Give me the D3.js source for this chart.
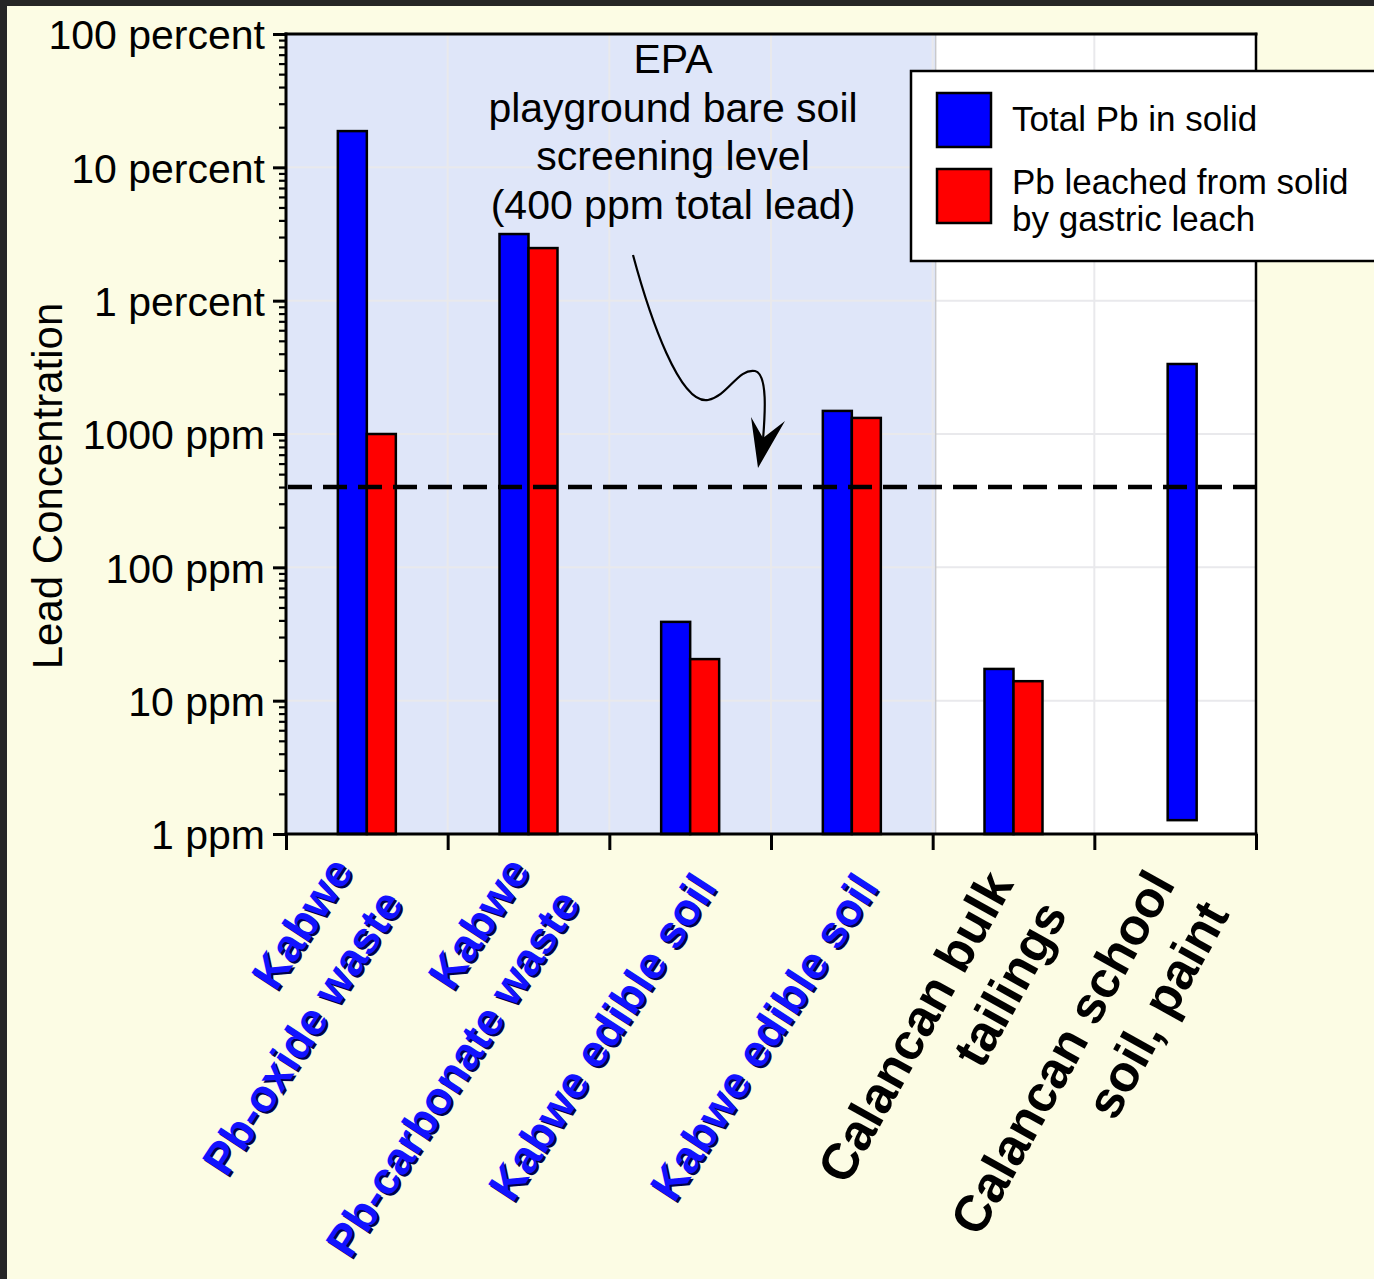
<!DOCTYPE html>
<html><head><meta charset="utf-8">
<script src="https://cdn.jsdelivr.net/npm/d3@7"></script>
<style>
html,body{margin:0;padding:0;background:#262626;}
svg{display:block;}
text{font-family:"Liberation Sans",Arial,Helvetica,sans-serif;}
</style></head><body>
<svg id="chart" width="1374" height="1279"></svg>
<script>
// ---------- data ----------
const categoryIds = ["kabwe-oxide", "kabwe-carbonate", "kabwe-soil-a", "kabwe-soil-b", "calancan-tailings", "calancan-school"];
const categoryLines = [["Kabwe", "Pb-oxide waste"], ["Kabwe", "Pb-carbonate waste"], ["Kabwe edible soil"], ["Kabwe edible soil"], ["Calancan bulk", "tailings"], ["Calancan school", "soil, paint"]];
const siteGroup = ["Kabwe", "Kabwe", "Kabwe", "Kabwe", "Calancan", "Calancan"];
const totalPb = [187000, 31600, 39, 1490, 17.3, 3350];          // ppm, bar top
const totalPbBase = [1, 1, 1, 1, 1, 1.27];                      // ppm, bar bottom
const leachedPb = [1000, 24800, 20.5, 1320, 14.0, null];        // ppm
const seriesNames = ["Total Pb in solid", ["Pb leached from solid", "by gastric leach"]];
const yTickValues = [1, 10, 100, 1000, 10000, 100000, 1000000];
const yTickLabels = ["1 ppm", "10 ppm", "100 ppm", "1000 ppm", "1 percent", "10 percent", "100 percent"];
const screeningLevel = 400;
const annotationLines = ["EPA", "playground bare soil", "screening level", "(400 ppm total lead)"];
const yTitle = "Lead Concentration";

// ---------- layout ----------
const W = 1374, H = 1279;
const plot = {left: 286, right: 1256, top: 34, bottom: 834};
const FONT = '"Liberation Sans", Arial, Helvetica, sans-serif';
const BLUE = "#0000ff", RED = "#ff0000";
const barW = 29, loneShift = 7;
const labelNudgeX = [-15, 0, 0, 0, 0, 0];

const svg = d3.select("#chart");
svg.append("rect").attr("x", 7).attr("y", 6).attr("width", W).attr("height", H).attr("fill", "#fcfce4");

const x = d3.scaleBand().domain(categoryIds).range([plot.left, plot.right]).padding(0);
const y = d3.scaleLog().domain([1, 1e6]).range([plot.bottom, plot.top]);
const cxOf = id => x(id) + x.bandwidth() / 2;

// plot background
svg.append("rect").attr("x", plot.left).attr("y", plot.top)
  .attr("width", plot.right - plot.left).attr("height", plot.bottom - plot.top).attr("fill", "#ffffff");
const kab = categoryIds.filter((d, i) => siteGroup[i] === "Kabwe");
svg.append("rect").attr("x", x(kab[0])).attr("y", plot.top)
  .attr("width", x(kab[kab.length - 1]) + x.bandwidth() - x(kab[0]) + 3).attr("height", plot.bottom - plot.top)
  .attr("fill", "#dfe6f9");

// grid
const grid = svg.append("g").attr("stroke", "#e9e9ec").attr("stroke-width", 2);
yTickValues.slice(1, -1).forEach(v => grid.append("line")
  .attr("x1", plot.left).attr("x2", plot.right).attr("y1", y(v)).attr("y2", y(v)));
categoryIds.slice(1).forEach(id => grid.append("line")
  .attr("x1", x(id)).attr("x2", x(id)).attr("y1", plot.top).attr("y2", plot.bottom));
const calX = x(categoryIds[siteGroup.indexOf("Calancan")]) + 3;
svg.append("line").attr("x1", calX).attr("x2", calX)
  .attr("y1", plot.top).attr("y2", plot.bottom).attr("stroke", "#c9c9cc").attr("stroke-width", 1.5);

// bars
const bars = svg.append("g").attr("stroke", "#000").attr("stroke-width", 2.5);
categoryIds.forEach((id, i) => {
  const cx = cxOf(id);
  const hasLeach = leachedPb[i] != null;
  const bx = hasLeach ? cx - barW : cx - barW / 2 + loneShift;
  bars.append("rect").attr("x", bx).attr("y", y(totalPb[i]))
    .attr("width", barW).attr("height", y(totalPbBase[i]) - y(totalPb[i])).attr("fill", BLUE);
  if (hasLeach) {
    bars.append("rect").attr("x", cx).attr("y", y(leachedPb[i]))
      .attr("width", barW).attr("height", y(1) - y(leachedPb[i])).attr("fill", RED);
  }
});

// screening level
svg.append("line").attr("x1", plot.left + 2).attr("x2", plot.right).attr("y1", y(screeningLevel)).attr("y2", y(screeningLevel))
  .attr("stroke", "#000").attr("stroke-width", 4.5).attr("stroke-dasharray", "24,11");

// y axis
const yAxis = d3.axisLeft(y).tickValues(yTickValues).tickFormat((d, i) => yTickLabels[i]).tickSize(13).tickPadding(8);
const gy = svg.append("g").attr("transform", `translate(${plot.left},0)`).call(yAxis);
gy.attr("font-size", 41).attr("font-family", FONT);
gy.select(".domain").remove();
gy.selectAll(".tick line").attr("stroke", "#000").attr("stroke-width", 3);
gy.selectAll(".tick text").attr("fill", "#000").attr("dy", "0.36em");
const minorVals = [];
for (let d = 0; d < 6; d++) for (let m = 2; m <= 9; m++) minorVals.push(Math.pow(10, d) * m);
const gyMinor = svg.append("g").attr("transform", `translate(${plot.left},0)`)
  .call(d3.axisLeft(y).tickValues(minorVals).tickFormat("").tickSize(7));
gyMinor.select(".domain").remove();
gyMinor.selectAll(".tick line").attr("stroke", "#000").attr("stroke-width", 2.2);

// x axis ticks at category boundaries
const xb = d3.scaleLinear().domain([0, categoryIds.length]).range([plot.left, plot.right]);
const gx = svg.append("g").attr("transform", `translate(0,${plot.bottom})`)
  .call(d3.axisBottom(xb).tickValues(d3.range(categoryIds.length + 1)).tickFormat("").tickSize(16));
gx.select(".domain").remove();
gx.selectAll(".tick line").attr("stroke", "#000").attr("stroke-width", 3);

// frame
const frame = svg.append("g").attr("stroke", "#000").attr("stroke-linecap", "square");
frame.append("line").attr("x1", plot.left).attr("x2", plot.right).attr("y1", plot.top).attr("y2", plot.top).attr("stroke-width", 3);
frame.append("line").attr("x1", plot.right).attr("x2", plot.right).attr("y1", plot.top).attr("y2", plot.bottom).attr("stroke-width", 2.5);
frame.append("line").attr("x1", plot.left).attr("x2", plot.left).attr("y1", plot.top).attr("y2", plot.bottom).attr("stroke-width", 3);
frame.append("line").attr("x1", plot.left).attr("x2", plot.right).attr("y1", plot.bottom).attr("y2", plot.bottom).attr("stroke-width", 3);

// y title
svg.append("text").attr("transform", `translate(62,${(plot.top + plot.bottom) / 2 + 52}) rotate(-90)`)
  .attr("text-anchor", "middle").attr("font-size", 42).attr("fill", "#000").text(yTitle);

// annotation
const ann = svg.append("text").attr("text-anchor", "middle").attr("font-size", 41).attr("fill", "#000");
annotationLines.forEach((t, i) => ann.append("tspan").attr("x", 673).attr("y", 73 + i * 48.7).text(t));
svg.append("path")
  .attr("d", "M633,255 C650,318 680,405 708,400 C728,396 738,368 755,371 C768,374 765,415 763,440")
  .attr("fill", "none").attr("stroke", "#000").attr("stroke-width", 2.2);
svg.append("path").attr("d", "M751,417 L763,438 L785,421 L758,468 Z").attr("fill", "#000");

// legend
const lg = svg.append("g");
lg.append("rect").attr("x", 911).attr("y", 71).attr("width", 480).attr("height", 190)
  .attr("fill", "#fff").attr("stroke", "#000").attr("stroke-width", 2.5);
[BLUE, RED].forEach((c, i) => lg.append("rect").attr("x", 937).attr("y", 93 + i * 76).attr("width", 54).attr("height", 54)
  .attr("fill", c).attr("stroke", "#000").attr("stroke-width", 2.5));
lg.append("text").attr("x", 1012).attr("y", 131).attr("font-size", 35).attr("fill", "#000").text(seriesNames[0]);
const l2 = lg.append("text").attr("font-size", 35).attr("fill", "#000");
seriesNames[1].forEach((t, i) => l2.append("tspan").attr("x", 1012).attr("y", 194 + i * 37).text(t));

// category labels
const labels = svg.append("g").attr("font-weight", "bold");
categoryIds.forEach((id, i) => {
  const isK = siteGroup[i] === "Kabwe";
  const angle = isK ? -57 : -61;
  const fs = isK ? 45 : 51;
  const spacing = isK ? 60 : 62;
  const lines = categoryLines[i];
  const ax = cxOf(id) + 28 + labelNudgeX[i], ay = isK ? 887 : 899;
  const layers = isK ? [{dx: 2, dy: 2, fill: "#00004a"}, {dx: 0, dy: 0, fill: "#1212ff"}] : [{dx: 0, dy: 0, fill: "#000"}];
  layers.forEach(L => {
    const t = labels.append("text").attr("transform", `translate(${ax + L.dx},${ay + L.dy}) rotate(${angle})`)
      .attr("text-anchor", "end").attr("font-size", fs).attr("fill", L.fill);
    lines.forEach((s, j) => t.append("tspan").attr("x", 0).attr("y", (j - (lines.length - 1) / 2) * spacing).text(s));
  });
});
</script>
</body></html>
